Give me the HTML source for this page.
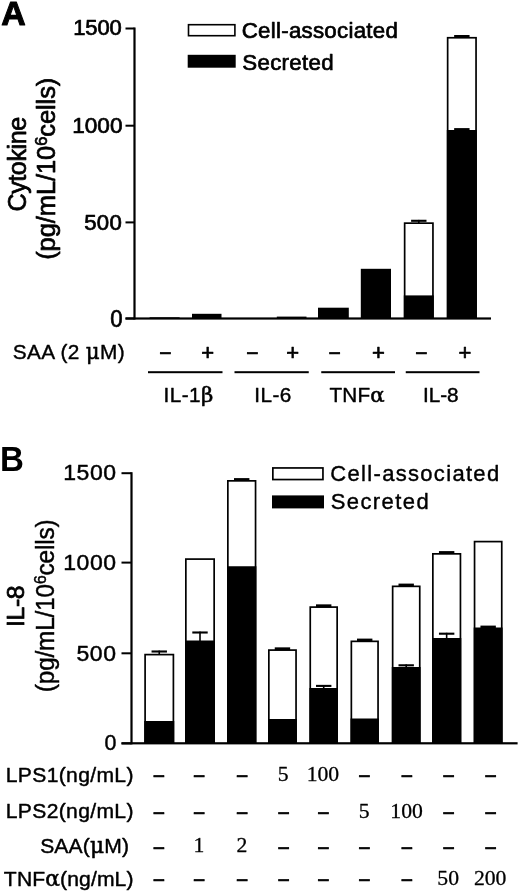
<!DOCTYPE html>
<html><head><meta charset="utf-8"><title>Figure</title>
<style>
html,body{margin:0;padding:0;background:#fff;}
svg{display:block}
text{fill:#000;stroke:#000;stroke-width:0.7px;stroke-linejoin:round}
</style></head><body>
<svg width="520" height="892" viewBox="0 0 520 892">
<rect width="520" height="892" fill="#fff"/>
<g shape-rendering="auto">
<rect x="133.40" y="27.50" width="2.20" height="292.00" fill="#000"/>
<rect x="125.50" y="27.50" width="9.00" height="2.00" fill="#000"/>
<rect x="125.50" y="124.70" width="9.00" height="2.00" fill="#000"/>
<rect x="125.50" y="221.40" width="9.00" height="2.00" fill="#000"/>
<rect x="125.50" y="317.50" width="9.00" height="2.00" fill="#000"/>
<rect x="125.50" y="317.40" width="365.50" height="2.20" fill="#000"/>
<rect x="188.50" y="24.70" width="46.40" height="11.00" fill="#fff" stroke="#000" stroke-width="1.6"/>
<rect x="187.70" y="54.80" width="48.00" height="12.90" fill="#000"/>
<rect x="149.60" y="317.30" width="30.00" height="1.20" fill="#000"/>
<rect x="192.00" y="313.80" width="29.50" height="4.70" fill="#000"/>
<rect x="276.80" y="316.60" width="29.70" height="1.90" fill="#000"/>
<rect x="318.00" y="307.70" width="30.80" height="10.80" fill="#000"/>
<rect x="360.80" y="268.80" width="30.20" height="49.70" fill="#000"/>
<rect x="404.65" y="223.15" width="28.30" height="94.50" fill="#fff" stroke="#000" stroke-width="1.7"/>
<rect x="418.00" y="219.90" width="1.60" height="3.40" fill="#000"/>
<rect x="411.10" y="219.75" width="15.40" height="2.10" fill="#000"/>
<rect x="403.80" y="295.40" width="30.00" height="23.10" fill="#000"/>
<rect x="447.65" y="37.75" width="28.40" height="279.90" fill="#fff" stroke="#000" stroke-width="1.7"/>
<rect x="454.15" y="35.00" width="15.40" height="2.90" fill="#000"/>
<rect x="446.80" y="130.00" width="30.10" height="188.50" fill="#000"/>
<rect x="454.15" y="128.10" width="15.40" height="2.90" fill="#000"/>
<rect x="148.00" y="371.20" width="74.50" height="2.00" fill="#000"/>
<rect x="234.50" y="371.20" width="74.25" height="2.00" fill="#000"/>
<rect x="321.25" y="371.20" width="73.75" height="2.00" fill="#000"/>
<rect x="405.75" y="371.20" width="73.75" height="2.00" fill="#000"/>
<rect x="130.40" y="472.20" width="2.20" height="272.10" fill="#000"/>
<rect x="121.50" y="472.20" width="10.00" height="2.00" fill="#000"/>
<rect x="121.50" y="561.60" width="10.00" height="2.00" fill="#000"/>
<rect x="121.50" y="652.30" width="10.00" height="2.00" fill="#000"/>
<rect x="121.50" y="742.40" width="10.00" height="2.00" fill="#000"/>
<rect x="121.50" y="742.20" width="396.10" height="2.20" fill="#000"/>
<rect x="272.85" y="467.95" width="50.10" height="11.60" fill="#fff" stroke="#000" stroke-width="1.7"/>
<rect x="272.00" y="495.40" width="52.00" height="13.00" fill="#000"/>
<rect x="145.10" y="654.60" width="28.30" height="87.85" fill="#fff" stroke="#000" stroke-width="1.7"/>
<rect x="158.45" y="650.60" width="1.60" height="4.15" fill="#000"/>
<rect x="151.55" y="650.45" width="15.40" height="2.10" fill="#000"/>
<rect x="144.25" y="721.00" width="30.00" height="22.30" fill="#000"/>
<rect x="185.85" y="559.10" width="28.30" height="183.35" fill="#fff" stroke="#000" stroke-width="1.7"/>
<rect x="185.00" y="640.50" width="30.00" height="102.80" fill="#000"/>
<rect x="199.20" y="631.60" width="1.60" height="9.90" fill="#000"/>
<rect x="192.30" y="631.45" width="15.40" height="2.10" fill="#000"/>
<rect x="227.85" y="480.85" width="27.70" height="261.60" fill="#fff" stroke="#000" stroke-width="1.7"/>
<rect x="234.00" y="478.10" width="15.40" height="2.90" fill="#000"/>
<rect x="227.00" y="566.25" width="29.40" height="177.05" fill="#000"/>
<rect x="268.85" y="650.10" width="27.20" height="92.35" fill="#fff" stroke="#000" stroke-width="1.7"/>
<rect x="274.75" y="647.35" width="15.40" height="2.90" fill="#000"/>
<rect x="268.00" y="719.00" width="28.90" height="24.30" fill="#000"/>
<rect x="310.25" y="607.10" width="26.90" height="135.35" fill="#fff" stroke="#000" stroke-width="1.7"/>
<rect x="316.00" y="604.35" width="15.40" height="2.90" fill="#000"/>
<rect x="309.40" y="688.00" width="28.60" height="55.30" fill="#000"/>
<rect x="322.90" y="685.00" width="1.60" height="4.00" fill="#000"/>
<rect x="316.00" y="684.85" width="15.40" height="2.10" fill="#000"/>
<rect x="351.35" y="641.35" width="26.70" height="101.10" fill="#fff" stroke="#000" stroke-width="1.7"/>
<rect x="357.00" y="638.60" width="15.40" height="2.90" fill="#000"/>
<rect x="350.50" y="718.50" width="28.40" height="24.80" fill="#000"/>
<rect x="392.65" y="586.35" width="27.10" height="156.10" fill="#fff" stroke="#000" stroke-width="1.7"/>
<rect x="398.50" y="583.60" width="15.40" height="2.90" fill="#000"/>
<rect x="391.80" y="667.00" width="28.80" height="76.30" fill="#000"/>
<rect x="405.40" y="664.40" width="1.60" height="3.60" fill="#000"/>
<rect x="398.50" y="664.25" width="15.40" height="2.10" fill="#000"/>
<rect x="432.85" y="553.85" width="27.60" height="188.60" fill="#fff" stroke="#000" stroke-width="1.7"/>
<rect x="438.95" y="551.10" width="15.40" height="2.90" fill="#000"/>
<rect x="432.00" y="638.00" width="29.30" height="105.30" fill="#000"/>
<rect x="445.85" y="632.80" width="1.60" height="6.20" fill="#000"/>
<rect x="438.95" y="632.65" width="15.40" height="2.10" fill="#000"/>
<rect x="474.55" y="541.60" width="27.20" height="200.85" fill="#fff" stroke="#000" stroke-width="1.7"/>
<rect x="473.70" y="627.50" width="28.90" height="115.80" fill="#000"/>
<rect x="480.45" y="625.60" width="15.40" height="2.90" fill="#000"/>
</g>
<g>
<text transform="translate(1.27,25.3) scale(1.0087,1)" font-family='"Liberation Sans", Arial, Helvetica, sans-serif' font-size="33.6" font-weight="bold" style="stroke-width:1.0px">A</text>
<text transform="translate(73.22,35) scale(1.0000,1)" font-family='"Liberation Sans", Arial, Helvetica, sans-serif' font-size="22" font-weight="normal" letter-spacing="-0.140">1500</text>
<text transform="translate(72.19,132.6) scale(1.0000,1)" font-family='"Liberation Sans", Arial, Helvetica, sans-serif' font-size="22.6" font-weight="normal" letter-spacing="-0.000">1000</text>
<text transform="translate(84.21,229.9) scale(1.0000,1)" font-family='"Liberation Sans", Arial, Helvetica, sans-serif' font-size="22.2" font-weight="normal" letter-spacing="0.303">500</text>
<text transform="translate(110.21,327.0) scale(0.9250,1)" font-family='"Liberation Sans", Arial, Helvetica, sans-serif' font-size="24" font-weight="normal">0</text>
<text transform="translate(241.75,38.4) scale(1.0000,1)" font-family='"Liberation Sans", Arial, Helvetica, sans-serif' font-size="22.3" font-weight="normal" letter-spacing="0.260">Cell-associated</text>
<text transform="translate(242.30,70.4) scale(1.0000,1)" font-family='"Liberation Sans", Arial, Helvetica, sans-serif' font-size="22.3" font-weight="normal" letter-spacing="0.299">Secreted</text>
<text transform="translate(12.65,358.75) scale(1.0000,1)" font-family='"Liberation Sans", Arial, Helvetica, sans-serif' font-size="20.8" font-weight="normal" letter-spacing="0.375" style="stroke-width:0.4px">SAA (2 <tspan font-family='"DejaVu Serif", "Liberation Serif", serif' font-size='21.42' style='stroke-width:0.50px'>μ</tspan>M)</text>
<text transform="translate(163.58,402) scale(1.0000,1)" font-family='"Liberation Sans", Arial, Helvetica, sans-serif' font-size="20.7" font-weight="normal" letter-spacing="0.430" style="stroke-width:0.45px">IL-1<tspan font-family='"DejaVu Serif", "Liberation Serif", serif' font-size='21.32' style='stroke-width:0.55px'>β</tspan></text>
<text transform="translate(254.18,402) scale(1.0000,1)" font-family='"Liberation Sans", Arial, Helvetica, sans-serif' font-size="20.7" font-weight="normal" letter-spacing="0.496" style="stroke-width:0.45px">IL-6</text>
<text transform="translate(329.48,402) scale(1.0000,1)" font-family='"Liberation Sans", Arial, Helvetica, sans-serif' font-size="20.7" font-weight="normal" letter-spacing="0.198" style="stroke-width:0.45px">TNF<tspan font-family='"DejaVu Serif", "Liberation Serif", serif' font-size='21.32' style='stroke-width:0.55px'>α</tspan></text>
<text transform="translate(422.88,402.2) scale(1.0000,1)" font-family='"Liberation Sans", Arial, Helvetica, sans-serif' font-size="20.7" font-weight="normal" letter-spacing="0.029" style="stroke-width:0.45px">IL-8</text>
<text transform="translate(25.9,211.48) rotate(-90) scale(1.0000,1)" font-family='"Liberation Sans", Arial, Helvetica, sans-serif' font-size="25.2" font-weight="normal" letter-spacing="-0.477">Cytokine</text>
<text transform="translate(55.2,259.80) rotate(-90) scale(1.0000,1)" font-family='"Liberation Sans", Arial, Helvetica, sans-serif' font-size="25.5" font-weight="normal" letter-spacing="-0.092">(pg/mL/10<tspan dy="-8.1" font-size="16.5">6</tspan><tspan dy="8.1">cells)</tspan></text>
<text transform="translate(-0.07,470.7) scale(0.9572,1)" font-family='"Liberation Sans", Arial, Helvetica, sans-serif' font-size="34.6" font-weight="bold" style="stroke-width:0px">B</text>
<text transform="translate(63.16,479.5) scale(1.0700,1)" font-family='"Liberation Sans", Arial, Helvetica, sans-serif' font-size="21.5" font-weight="normal" letter-spacing="0.571" style="stroke-width:0.45px">1500</text>
<text transform="translate(63.16,569.7) scale(1.0700,1)" font-family='"Liberation Sans", Arial, Helvetica, sans-serif' font-size="21.5" font-weight="normal" letter-spacing="0.571" style="stroke-width:0.45px">1000</text>
<text transform="translate(76.38,660.5) scale(1.0700,1)" font-family='"Liberation Sans", Arial, Helvetica, sans-serif' font-size="21.5" font-weight="normal" letter-spacing="0.658" style="stroke-width:0.45px">500</text>
<text transform="translate(104.43,750.0) scale(0.9953,1)" font-family='"Liberation Sans", Arial, Helvetica, sans-serif' font-size="21.5" font-weight="normal" style="stroke-width:0.45px">0</text>
<text transform="translate(330.37,481.4) scale(1.0000,1)" font-family='"Liberation Sans", Arial, Helvetica, sans-serif' font-size="22.0" font-weight="normal" letter-spacing="1.312" style="stroke-width:0.4px">Cell-associated</text>
<text transform="translate(330.71,509.4) scale(1.0000,1)" font-family='"Liberation Sans", Arial, Helvetica, sans-serif' font-size="22.0" font-weight="normal" letter-spacing="1.410" style="stroke-width:0.4px">Secreted</text>
<text transform="translate(24.0,626.94) rotate(-90) scale(1.0000,1)" font-family='"Liberation Sans", Arial, Helvetica, sans-serif' font-size="24.8" font-weight="normal" letter-spacing="-0.430" style="stroke-width:0.8px">IL-8</text>
<text transform="translate(53.9,692.14) rotate(-90) scale(0.9600,1)" font-family='"Liberation Sans", Arial, Helvetica, sans-serif' font-size="25.4" font-weight="normal" letter-spacing="-0.187" style="stroke-width:0.45px">(pg/mL/10<tspan dy="-8.1" font-size="16.5">6</tspan><tspan dy="8.1">cells)</tspan></text>
<text transform="translate(5.75,782) scale(1.0000,1)" font-family='"Liberation Sans", Arial, Helvetica, sans-serif' font-size="21.1" font-weight="normal" letter-spacing="0.343" style="stroke-width:0.45px">LPS1(ng/mL)</text>
<text transform="translate(5.75,818.25) scale(1.0000,1)" font-family='"Liberation Sans", Arial, Helvetica, sans-serif' font-size="21.1" font-weight="normal" letter-spacing="0.343" style="stroke-width:0.45px">LPS2(ng/mL)</text>
<text transform="translate(40.14,852.5) scale(1.0000,1)" font-family='"Liberation Sans", Arial, Helvetica, sans-serif' font-size="21.1" font-weight="normal" letter-spacing="0.163" style="stroke-width:0.45px">SAA(<tspan font-family='"DejaVu Serif", "Liberation Serif", serif' font-size='21.73' style='stroke-width:0.55px'>μ</tspan>M)</text>
<text transform="translate(3.87,885.75) scale(1.0000,1)" font-family='"Liberation Sans", Arial, Helvetica, sans-serif' font-size="21.1" font-weight="normal" letter-spacing="0.123" style="stroke-width:0.45px">TNF<tspan font-family='"DejaVu Serif", "Liberation Serif", serif' font-size='21.73' style='stroke-width:0.55px'>α</tspan>(ng/mL)</text>
<text x="165.4" y="360.3" text-anchor="middle" font-family='"Liberation Sans", Arial, Helvetica, sans-serif' font-size="21">−</text>
<text x="207.75" y="360.4" text-anchor="middle" font-family='"Liberation Sans", Arial, Helvetica, sans-serif' font-size="22">+</text>
<text x="252.5" y="360.3" text-anchor="middle" font-family='"Liberation Sans", Arial, Helvetica, sans-serif' font-size="21">−</text>
<text x="292.75" y="360.4" text-anchor="middle" font-family='"Liberation Sans", Arial, Helvetica, sans-serif' font-size="22">+</text>
<text x="334.75" y="360.3" text-anchor="middle" font-family='"Liberation Sans", Arial, Helvetica, sans-serif' font-size="21">−</text>
<text x="378.4" y="360.4" text-anchor="middle" font-family='"Liberation Sans", Arial, Helvetica, sans-serif' font-size="22">+</text>
<text x="421.4" y="360.3" text-anchor="middle" font-family='"Liberation Sans", Arial, Helvetica, sans-serif' font-size="21">−</text>
<text x="465" y="360.4" text-anchor="middle" font-family='"Liberation Sans", Arial, Helvetica, sans-serif' font-size="22">+</text>
<text x="159" y="782.8" text-anchor="middle" font-family='"Liberation Sans", Arial, Helvetica, sans-serif' font-size="21">−</text>
<text x="199.25" y="782.8" text-anchor="middle" font-family='"Liberation Sans", Arial, Helvetica, sans-serif' font-size="21">−</text>
<text x="242.25" y="782.8" text-anchor="middle" font-family='"Liberation Sans", Arial, Helvetica, sans-serif' font-size="21">−</text>
<text x="283.20000000000005" y="780.95" text-anchor="middle" font-family='"Liberation Serif", "Times New Roman", serif' font-size="21.7" style="stroke-width:0.3px">5</text>
<text x="322.90000000000003" y="780.95" text-anchor="middle" font-family='"Liberation Serif", "Times New Roman", serif' font-size="21.7" style="stroke-width:0.3px">100</text>
<text x="364.5" y="782.8" text-anchor="middle" font-family='"Liberation Sans", Arial, Helvetica, sans-serif' font-size="21">−</text>
<text x="407" y="782.8" text-anchor="middle" font-family='"Liberation Sans", Arial, Helvetica, sans-serif' font-size="21">−</text>
<text x="448.6" y="782.8" text-anchor="middle" font-family='"Liberation Sans", Arial, Helvetica, sans-serif' font-size="21">−</text>
<text x="490.6" y="782.8" text-anchor="middle" font-family='"Liberation Sans", Arial, Helvetica, sans-serif' font-size="21">−</text>
<text x="159" y="820.3" text-anchor="middle" font-family='"Liberation Sans", Arial, Helvetica, sans-serif' font-size="21">−</text>
<text x="199.25" y="820.3" text-anchor="middle" font-family='"Liberation Sans", Arial, Helvetica, sans-serif' font-size="21">−</text>
<text x="242.25" y="820.3" text-anchor="middle" font-family='"Liberation Sans", Arial, Helvetica, sans-serif' font-size="21">−</text>
<text x="283.6" y="820.3" text-anchor="middle" font-family='"Liberation Sans", Arial, Helvetica, sans-serif' font-size="21">−</text>
<text x="323.3" y="820.3" text-anchor="middle" font-family='"Liberation Sans", Arial, Helvetica, sans-serif' font-size="21">−</text>
<text x="364.1" y="817.7" text-anchor="middle" font-family='"Liberation Serif", "Times New Roman", serif' font-size="21.7" style="stroke-width:0.3px">5</text>
<text x="406.6" y="817.7" text-anchor="middle" font-family='"Liberation Serif", "Times New Roman", serif' font-size="21.7" style="stroke-width:0.3px">100</text>
<text x="448.6" y="820.3" text-anchor="middle" font-family='"Liberation Sans", Arial, Helvetica, sans-serif' font-size="21">−</text>
<text x="490.6" y="820.3" text-anchor="middle" font-family='"Liberation Sans", Arial, Helvetica, sans-serif' font-size="21">−</text>
<text x="159" y="854.8" text-anchor="middle" font-family='"Liberation Sans", Arial, Helvetica, sans-serif' font-size="21">−</text>
<text x="198.85" y="852.45" text-anchor="middle" font-family='"Liberation Serif", "Times New Roman", serif' font-size="21.7" style="stroke-width:0.3px">1</text>
<text x="241.85" y="852.45" text-anchor="middle" font-family='"Liberation Serif", "Times New Roman", serif' font-size="21.7" style="stroke-width:0.3px">2</text>
<text x="283.6" y="854.8" text-anchor="middle" font-family='"Liberation Sans", Arial, Helvetica, sans-serif' font-size="21">−</text>
<text x="323.3" y="854.8" text-anchor="middle" font-family='"Liberation Sans", Arial, Helvetica, sans-serif' font-size="21">−</text>
<text x="364.5" y="854.8" text-anchor="middle" font-family='"Liberation Sans", Arial, Helvetica, sans-serif' font-size="21">−</text>
<text x="407" y="854.8" text-anchor="middle" font-family='"Liberation Sans", Arial, Helvetica, sans-serif' font-size="21">−</text>
<text x="448.6" y="854.8" text-anchor="middle" font-family='"Liberation Sans", Arial, Helvetica, sans-serif' font-size="21">−</text>
<text x="490.6" y="854.8" text-anchor="middle" font-family='"Liberation Sans", Arial, Helvetica, sans-serif' font-size="21">−</text>
<text x="159" y="886.55" text-anchor="middle" font-family='"Liberation Sans", Arial, Helvetica, sans-serif' font-size="21">−</text>
<text x="199.25" y="886.55" text-anchor="middle" font-family='"Liberation Sans", Arial, Helvetica, sans-serif' font-size="21">−</text>
<text x="242.25" y="886.55" text-anchor="middle" font-family='"Liberation Sans", Arial, Helvetica, sans-serif' font-size="21">−</text>
<text x="283.6" y="886.55" text-anchor="middle" font-family='"Liberation Sans", Arial, Helvetica, sans-serif' font-size="21">−</text>
<text x="323.3" y="886.55" text-anchor="middle" font-family='"Liberation Sans", Arial, Helvetica, sans-serif' font-size="21">−</text>
<text x="364.5" y="886.55" text-anchor="middle" font-family='"Liberation Sans", Arial, Helvetica, sans-serif' font-size="21">−</text>
<text x="407" y="886.55" text-anchor="middle" font-family='"Liberation Sans", Arial, Helvetica, sans-serif' font-size="21">−</text>
<text x="448.20000000000005" y="885.4000000000001" text-anchor="middle" font-family='"Liberation Serif", "Times New Roman", serif' font-size="21.7" style="stroke-width:0.3px">50</text>
<text x="490.20000000000005" y="885.4000000000001" text-anchor="middle" font-family='"Liberation Serif", "Times New Roman", serif' font-size="21.7" style="stroke-width:0.3px">200</text>
</g>
</svg>
</body></html>
